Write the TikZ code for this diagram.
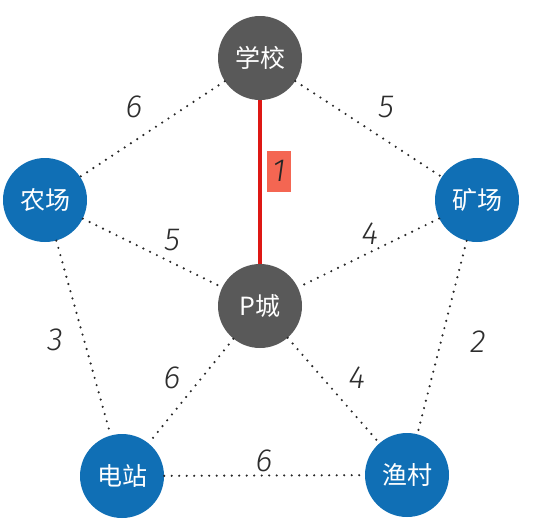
\documentclass[tikz,border=0pt]{standalone}
\usepackage{fontspec}
\newfontfamily\cjk{Noto Sans CJK SC}
\newfontfamily\numfont{Fira Sans Light}[ItalicFont={Fira Sans Light Italic}]
\definecolor{nodegray}{RGB}{89,89,89}
\definecolor{nodeblue}{RGB}{16,111,181}
\definecolor{boxred}{RGB}{244,102,82}
\definecolor{linered}{RGB}{222,24,20}
\definecolor{dotcol}{RGB}{40,40,40}
\definecolor{numcol}{RGB}{45,45,45}
\begin{document}
\begin{tikzpicture}[x=1pt,y=-1pt,
  city/.style={circle,minimum size=84pt,inner sep=0pt,text=white,font=\cjk\fontsize{25}{25}\selectfont},
  grayc/.style={city,fill=nodegray},
  bluec/.style={city,fill=nodeblue},
  dots/.style={draw=dotcol,line width=2.4pt,line cap=round,dash pattern=on 0pt off 7.5pt},
  wt/.style={text=numcol,font=\numfont\itshape\fontsize{32}{32}\selectfont,inner sep=0pt}
]
\useasboundingbox (0,0) rectangle (554,522);
\node[grayc] (school) at (260,58) {学校};
\node[bluec] (farm) at (45,200) {农场};
\node[bluec] (mine) at (477,200) {矿场};
\node[grayc] (pcity) at (260,306) {P城};
\node[bluec] (power) at (122,476) {电站};
\node[bluec] (fish) at (407,475) {渔村};
\draw[dots] (school) -- (farm);
\draw[dots] (school) -- (mine);
\draw[dots] (farm) -- (pcity);
\draw[dots] (mine) -- (pcity);
\draw[dots] (farm) -- (power);
\draw[dots] (mine) -- (fish);
\draw[dots] (pcity) -- (power);
\draw[dots] (pcity) -- (fish);
\draw[dots] (power) -- (fish);
\draw[draw=linered,line width=4.5pt] (school) -- (pcity);
\node[fill=boxred,minimum width=24pt,minimum height=41pt,inner sep=0pt] (onebox) at (279,171) {};
\node[wt,text=black!85] (w1) at (onebox) {1};
\node[wt] (w2) at (134,107) {6};
\node[wt] (w3) at (386,107) {5};
\node[wt] (w4) at (172,240) {5};
\node[wt] (w5) at (370,234) {4};
\node[wt] (w6) at (55,340) {3};
\node[wt] (w7) at (478,342) {2};
\node[wt] (w8) at (172,378) {6};
\node[wt] (w9) at (357,378) {4};
\node[wt] (w10) at (264,461) {6};
\end{tikzpicture}
\end{document}
